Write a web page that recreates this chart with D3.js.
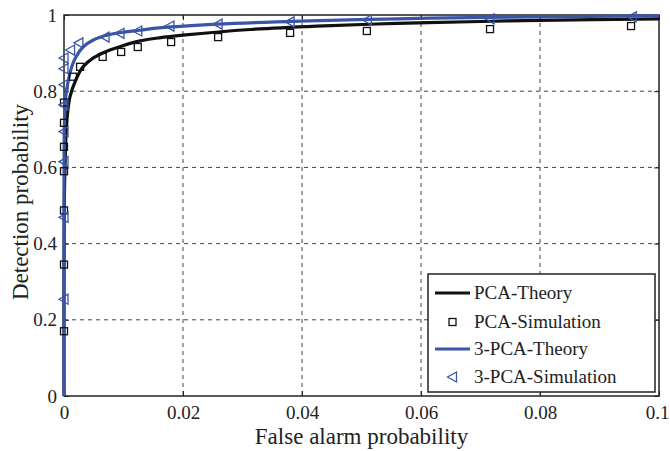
<!DOCTYPE html>
<html>
<head>
<meta charset="utf-8">
<script src="https://cdn.jsdelivr.net/npm/d3@7"></script>
<style>
  body { margin: 0; background: #fff; }
</style>
</head>
<body>
<svg id="chart"></svg>
<script>
// x = false alarm probability, y = detection probability
const pcaTheoryX = [0, 0, 0.00005, 0.0002, 0.00045, 0.001, 0.002, 0.0032, 0.005, 0.0072, 0.01, 0.0128, 0.016, 0.02, 0.0313, 0.0425, 0.056, 0.07, 0.08, 0.1];
const pcaTheoryY = [0, 0.3, 0.5, 0.62, 0.717, 0.785, 0.83, 0.864, 0.888, 0.905, 0.92, 0.932, 0.94, 0.947, 0.962, 0.971, 0.978, 0.983, 0.986, 0.99];

const pcaSimX = [0, 0, 0, 0, 0, 0, 0, 0.0015, 0.0027, 0.0065, 0.0096, 0.0124, 0.018, 0.0259, 0.038, 0.0509, 0.0716, 0.0953];
const pcaSimY = [0.17, 0.345, 0.487, 0.59, 0.654, 0.717, 0.77, 0.838, 0.864, 0.89, 0.903, 0.916, 0.929, 0.942, 0.953, 0.958, 0.963, 0.971];

const pca3TheoryX = [0, 0, 0.00005, 0.0002, 0.00045, 0.0013, 0.002, 0.0032, 0.005, 0.0072, 0.01, 0.0128, 0.016, 0.0257, 0.0397, 0.056, 0.0716, 0.1];
const pca3TheoryY = [0, 0.5, 0.7, 0.77, 0.804, 0.864, 0.89, 0.916, 0.935, 0.947, 0.955, 0.96, 0.966, 0.976, 0.984, 0.99, 0.994, 0.998];

const pca3SimX = [0, 0, 0, 0, 0, 0, 0, 0, 0.0011, 0.0025, 0.0069, 0.0094, 0.0124, 0.0178, 0.0259, 0.038, 0.051, 0.0716, 0.0955];
const pca3SimY = [0.254, 0.469, 0.615, 0.694, 0.764, 0.817, 0.859, 0.887, 0.908, 0.927, 0.942, 0.952, 0.958, 0.971, 0.976, 0.982, 0.987, 0.99, 0.995];

const xTicks = [0, 0.02, 0.04, 0.06, 0.08, 0.1];
const yTicks = [0, 0.2, 0.4, 0.6, 0.8, 1];
const legendLabels = ["PCA-Theory", "PCA-Simulation", "3-PCA-Theory", "3-PCA-Simulation"];

const W = 670, H = 451;
const margin = { top: 15, right: 11, bottom: 55, left: 64 };
const width = W - margin.left - margin.right;
const height = H - margin.top - margin.bottom;
const blue = "#3b55a6";
const serif = "'Liberation Serif', 'Times New Roman', Times, serif";

const svg = d3.select("#chart").attr("width", W).attr("height", H)
    .attr("font-family", serif);
const g = svg.append("g").attr("transform", `translate(${margin.left},${margin.top})`);

const x = d3.scaleLinear().domain([0, 0.1]).range([0, width]);
const y = d3.scaleLinear().domain([0, 1]).range([height, 0]);

// grid
g.append("g").selectAll("line")
    .data(xTicks.slice(1, -1))
    .enter().append("line")
    .attr("x1", d => x(d)).attr("x2", d => x(d))
    .attr("y1", 0).attr("y2", height)
    .attr("stroke", "#444").attr("stroke-width", 1).attr("stroke-dasharray", "4,4");
g.append("g").selectAll("line")
    .data(yTicks.slice(1, -1))
    .enter().append("line")
    .attr("y1", d => y(d)).attr("y2", d => y(d))
    .attr("x1", 0).attr("x2", width)
    .attr("stroke", "#444").attr("stroke-width", 1).attr("stroke-dasharray", "4,4");

// axes, ticks inward on all sides
const fmt = d => d === 0 ? "0" : d === 1 ? "1" : String(+d.toFixed(2));
const xAxis = g.append("g").attr("transform", `translate(0,${height})`)
    .call(d3.axisBottom(x).tickValues(xTicks).tickSizeInner(-5).tickSizeOuter(0).tickPadding(10).tickFormat(fmt));
const yAxis = g.append("g")
    .call(d3.axisLeft(y).tickValues(yTicks).tickSizeInner(-5).tickSizeOuter(0).tickPadding(7).tickFormat(fmt));
g.append("g").attr("transform", `translate(${width},0)`)
    .call(d3.axisRight(y).tickValues(yTicks).tickSizeInner(-5).tickSizeOuter(0).tickFormat(""));
g.append("g")
    .call(d3.axisTop(x).tickValues(xTicks).tickSizeInner(-5).tickSizeOuter(0).tickFormat(""));
g.selectAll(".domain").remove();
g.selectAll(".tick line").attr("stroke", "#222");
g.selectAll("g").attr("font-family", serif);
xAxis.selectAll("text").attr("font-size", 19).attr("fill", "#222")
    .attr("dx", d => d === 0.1 ? -2 : 0);
yAxis.selectAll("text").attr("font-size", 19).attr("fill", "#222");

// frame
g.append("rect").attr("width", width).attr("height", height)
    .attr("fill", "none").attr("stroke", "#222").attr("stroke-width", 1.5);

const line = d3.line().x(d => x(d[0])).y(d => y(d[1])).curve(d3.curveCatmullRom.alpha(0.5));

g.append("clipPath").attr("id", "clip").append("rect")
    .attr("x", -3).attr("y", -3).attr("width", width + 6).attr("height", height + 3);

const curves = g.append("g").attr("clip-path", "url(#clip)");
curves.append("path")
    .datum(d3.zip(pcaTheoryX, pcaTheoryY))
    .attr("fill", "none").attr("stroke", "#111").attr("stroke-width", 3.2)
    .attr("d", line);
curves.append("path")
    .datum(d3.zip(pca3TheoryX, pca3TheoryY))
    .attr("fill", "none").attr("stroke", blue).attr("stroke-width", 3.2)
    .attr("d", line);

// markers
const sq = 7;
g.append("g").selectAll("rect")
    .data(d3.zip(pcaSimX, pcaSimY))
    .enter().append("rect")
    .attr("x", d => x(d[0]) - sq / 2).attr("y", d => y(d[1]) - sq / 2)
    .attr("width", sq).attr("height", sq)
    .attr("fill", "none").attr("stroke", "#111").attr("stroke-width", 1.3);

const tri = "M-5,0L4,-5L4,5Z";
g.append("g").selectAll("path")
    .data(d3.zip(pca3SimX, pca3SimY))
    .enter().append("path")
    .attr("transform", d => `translate(${x(d[0])},${y(d[1])})`)
    .attr("d", tri)
    .attr("fill", "none").attr("stroke", blue).attr("stroke-width", 1.3);

// axis titles
svg.append("text")
    .attr("x", margin.left + width / 2).attr("y", 444)
    .attr("text-anchor", "middle").attr("font-size", 23).attr("fill", "#222")
    .text("False alarm probability");
svg.append("text")
    .attr("transform", "translate(28,202) rotate(-90)")
    .attr("text-anchor", "middle").attr("font-size", 23).attr("fill", "#222")
    .text("Detection probability");

// legend
const lg = svg.append("g").attr("transform", "translate(428,274)");
lg.append("rect").attr("width", 227).attr("height", 118)
    .attr("fill", "#fff").attr("stroke", "#222").attr("stroke-width", 1.5);
const rowY = [19, 48, 75, 103];
legendLabels.forEach((label, i) => {
    const row = lg.append("g").attr("transform", `translate(0,${rowY[i]})`);
    if (i === 0 || i === 2) {
        row.append("line").attr("x1", 7).attr("x2", 42).attr("y1", 0).attr("y2", 0)
            .attr("stroke", i === 0 ? "#111" : blue).attr("stroke-width", 3.2);
    } else if (i === 1) {
        row.append("rect").attr("x", 24.5 - sq / 2).attr("y", -sq / 2).attr("width", sq).attr("height", sq)
            .attr("fill", "none").attr("stroke", "#111").attr("stroke-width", 1.3);
    } else {
        row.append("path").attr("transform", "translate(24.5,0)").attr("d", tri)
            .attr("fill", "none").attr("stroke", blue).attr("stroke-width", 1.3);
    }
    row.append("text").attr("x", 46).attr("y", 6).attr("font-size", 19).attr("fill", "#222").text(label);
});
</script>
</body>
</html>
